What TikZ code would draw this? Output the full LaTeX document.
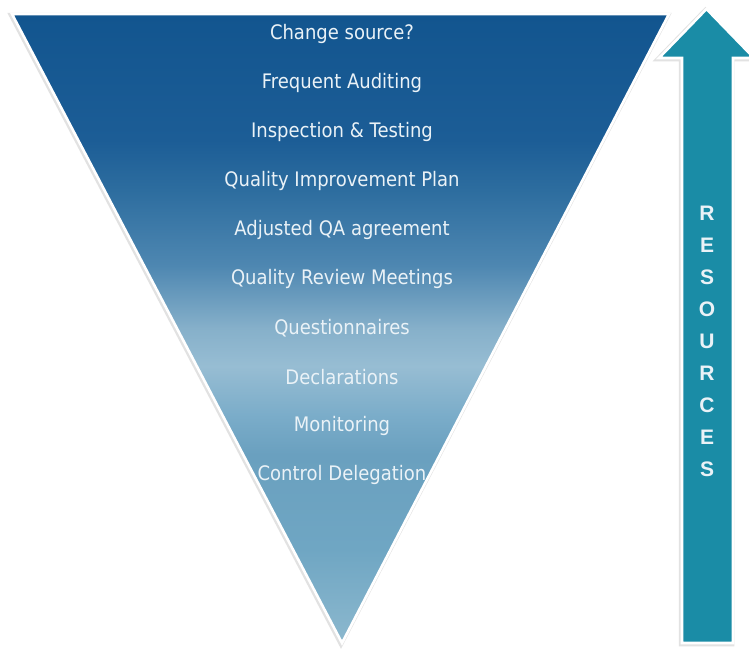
\documentclass[tikz,border=0pt]{standalone}
\usepackage{fontspec}
\setmainfont[FakeStretch=0.9]{DejaVu Sans}
\newfontfamily\resfont{Liberation Sans}
\definecolor{tA}{HTML}{12558F}
\definecolor{tA2}{HTML}{1C5D96}
\definecolor{tB}{HTML}{2D6D9F}
\definecolor{tC}{HTML}{4E87B1}
\definecolor{tC2}{HTML}{86B0CA}
\definecolor{tD}{HTML}{97BDD3}
\definecolor{tD2}{HTML}{7AACC9}
\definecolor{tE}{HTML}{6AA0BF}
\definecolor{tF}{HTML}{6FA6C3}
\definecolor{tG}{HTML}{8CB8CE}
\definecolor{arrowcol}{HTML}{1A8CA6}
\definecolor{txtcol}{HTML}{EAF2F7}
\definecolor{shadowcol}{HTML}{E2E2E2}
\pgfdeclareverticalshading{trishade}{100bp}{color(0bp)=(tG); color(25bp)=(tG); color(32.5bp)=(tF); color(40bp)=(tE); color(43bp)=(tD2); color(47bp)=(tD); color(50bp)=(tC2); color(55bp)=(tC); color(61bp)=(tB); color(65bp)=(tA2); color(75bp)=(tA); color(100bp)=(tA)}
\tikzset{
  item/.style={text=txtcol, font=\fontsize{20}{22}\selectfont, anchor=center, inner sep=0pt},
  letter/.style={text=txtcol, font=\resfont\bfseries\fontsize{21}{23}\selectfont, anchor=center, inner sep=0pt},
  shadowline/.style={draw=shadowcol, line width=4.5pt, line join=miter},
  whiteline/.style={draw=white, line width=2.6pt, line join=miter}
}
\begin{document}
\begin{tikzpicture}[x=1pt,y=-1pt]
\useasboundingbox (0,0) rectangle (749,648);
\fill[white] (0,0) rectangle (749,648);
% triangle
\coordinate (tl) at (12,14);
\coordinate (tr) at (669,14);
\coordinate (tb) at (342,643);
\draw[shadowline] ([xshift=-1pt,yshift=-1pt]tl) -- ([xshift=-1pt,yshift=-1pt]tr) -- ([xshift=-1pt,yshift=-1pt]tb) -- cycle;
\shade[shading=trishade, whiteline] (tl) -- (tr) -- (tb) -- cycle;
% arrow
\coordinate (a1) at (682,643);
\coordinate (a2) at (682,58);
\coordinate (a3) at (659,58);
\coordinate (a4) at (706.5,9);
\coordinate (a5) at (754,58);
\coordinate (a6) at (733,58);
\coordinate (a7) at (733,643);
\begin{scope}
\clip (0,0) rectangle (749,648);
\draw[shadowline] ([xshift=-1pt,yshift=-1pt]a1) -- ([xshift=-1pt,yshift=-1pt]a2) -- ([xshift=-1pt,yshift=-1pt]a3) -- ([xshift=-1pt,yshift=-1pt]a4) -- ([xshift=-1pt,yshift=-1pt]a5) -- ([xshift=-1pt,yshift=-1pt]a6) -- ([xshift=-1pt,yshift=-1pt]a7) -- cycle;
\fill[arrowcol, whiteline] (a1) -- (a2) -- (a3) -- (a4) -- (a5) -- (a6) -- (a7) -- cycle;
\end{scope}
% items
\node[item] (i1) at (342,34) {Change source?};
\node[item] (i2) at (342,83) {Frequent Auditing};
\node[item] (i3) at (342,132) {Inspection \& Testing};
\node[item] (i4) at (342,181) {Quality Improvement Plan};
\node[item] (i5) at (342,230) {Adjusted QA agreement};
\node[item] (i6) at (342,279) {Quality Review Meetings};
\node[item] (i7) at (342,328) {Questionnaires};
\node[item] (i8) at (342,377) {Declarations};
\node[item] (i9) at (342,426) {Monitoring};
\node[item] (i10) at (342,475) {Control Delegation};
% letters
\foreach \l [count=\k from 0] in {R,E,S,O,U,R,C,E,S}
  \node[letter] (r\k) at (707,{213+32*\k}) {\l};
\end{tikzpicture}
\end{document}
